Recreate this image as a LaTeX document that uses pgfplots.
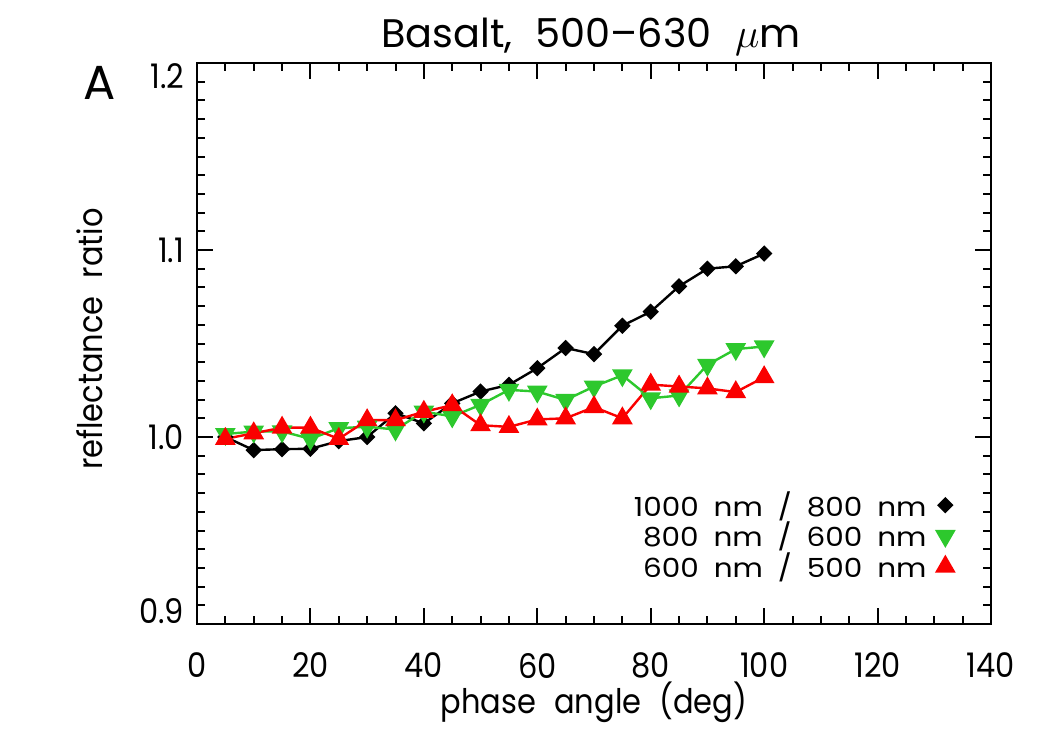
\documentclass[border=0pt]{standalone}
\usepackage{pgfplots}
\pgfplotsset{compat=1.18}
\usepackage{fontspec}
\setmainfont{Poppins}[FakeStretch=0.9, WordSpace=2.2]
\newfontfamily\legfont{Poppins}[FakeStretch=1.12, WordSpace=1.9]
\newfontfamily\titfont{Poppins}[FakeStretch=1.0, WordSpace=2.2]

\definecolor{ratiogreen}{RGB}{45,200,45}
\definecolor{ratiored}{RGB}{250,0,0}

\pgfplotstableread{
x y
5 1.000
10 0.993
15 0.9935
20 0.9937
25 0.9978
30 1.000
35 1.0127
40 1.0073
45 1.018
50 1.0243
55 1.0279
60 1.0368
65 1.0476
70 1.0443
75 1.0595
80 1.067
85 1.0806
90 1.090
95 1.0913
100 1.0981
}\ratioA

\pgfplotstableread{
x y
5 1.0016
10 1.0029
15 1.003
20 0.999
25 1.0047
30 1.0055
35 1.004
40 1.0136
45 1.011
50 1.0172
55 1.0252
60 1.0243
65 1.0198
70 1.027
75 1.033
80 1.0207
85 1.0222
90 1.0386
95 1.047
100 1.0484
}\ratioB

\pgfplotstableread{
x y
5 0.999
10 1.002
15 1.005
20 1.005
25 0.999
30 1.009
35 1.009
40 1.0135
45 1.017
50 1.0063
55 1.0054
60 1.0094
65 1.010
70 1.016
75 1.010
80 1.028
85 1.027
90 1.026
95 1.024
100 1.032
}\ratioC

\begin{document}
\begin{tikzpicture}
\path[use as bounding box] (-98.5bp,-63bp) rectangle (426.5bp,312bp);
\begin{axis}[
  at={(0,0)}, anchor=south west,
  scale only axis, width=397bp, height=280.5bp,
  xmin=0, xmax=140, ymin=0.9, ymax=1.2,
  xtick={0,20,...,140}, ytick={0.9,1.0,1.1,1.2},
  minor x tick num=3, minor y tick num=9,
  tick align=inside,
  major tick length=8bp, minor tick length=4bp,
  axis line style={line width=1.2bp},
  every tick/.style={black, line width=1bp},
  font=\fontsize{17}{20}\selectfont,
  /pgf/number format/assume math mode=true,
  xticklabel style={yshift=-11bp},
  yticklabel style={/pgf/number format/.cd, fixed, fixed zerofill, precision=1,
    /tikz/.cd, inner ysep=0pt, xshift=-3bp,
    anchor=\ifcase\ticknum south east\or east\or east\else north east\fi},
  xlabel={phase angle (deg)},
  xlabel style={at={(axis description cs:0.5,0)}, anchor=base, yshift=-44.5bp},
  ylabel={reflectance ratio},
  ylabel style={at={(axis description cs:-0.1184,0.508)}, anchor=base, rotate=0},
  title={\titfont Basalt, 500–630 $\mu$m},
  every axis title shift=0pt,
  title style={at={(axis description cs:0.496,1)}, anchor=base, yshift=8bp,
    font=\fontsize{20}{24}\selectfont},
  legend plot pos=right,
  legend cell align=right,
  legend style={draw=none, fill=none, at={(axis description cs:0.961,0.157)}, anchor=east,
    font=\legfont\fontsize{13.2}{15}\selectfont, row sep=-2.5bp},
  legend image code/.code={\path (0cm,0cm); \draw[#1, only marks] plot coordinates {(0.24cm,0cm)};},
]
\addplot[black, line width=1.2bp, mark=square*, mark size=2.3bp,
  mark options={rotate=45, solid, fill=black}] table {\ratioA};
\addlegendentry{1000 nm / 800 nm}
\addplot[ratiogreen, line width=1.2bp, mark=triangle*, mark size=4.8bp,
  mark options={rotate=180, solid, fill=ratiogreen}] table {\ratioB};
\addlegendentry{800 nm / 600 nm}
\addplot[ratiored, line width=1.2bp, mark=triangle*, mark size=4.8bp,
  mark options={solid, fill=ratiored}] table {\ratioC};
\addlegendentry{600 nm / 500 nm}
\end{axis}
\node[anchor=base west, font=\titfont\fontsize{24}{28}\selectfont, inner sep=0pt] at (-57bp,262bp) {A};
\end{tikzpicture}
\end{document}
